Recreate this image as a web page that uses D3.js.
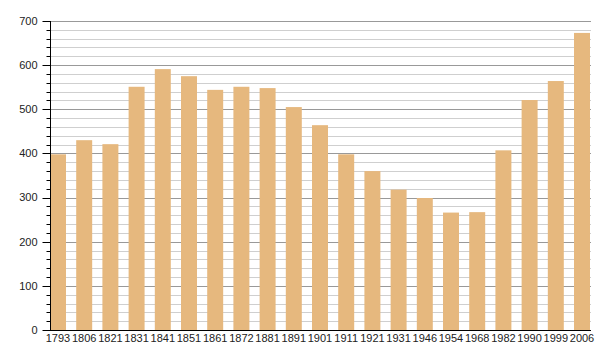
<!DOCTYPE html>
<html><head><meta charset="utf-8">
<script src="https://cdn.jsdelivr.net/npm/d3@7"></script>
<style>body{margin:0;background:#fff}svg{display:block}text{font-family:"Liberation Sans",Arial,sans-serif}</style>
</head><body>
<svg id="c" width="600" height="360"></svg>
<script>
const years = ["1793","1806","1821","1831","1841","1851","1861","1872","1881","1891","1901","1911","1921","1931","1946","1954","1968","1982","1990","1999","2006"];
const population = [398,430,421,551,591,575,544,551,548,505,464,398,360,318,299,266,267,407,521,564,673];
const yMajorTicks = [0,100,200,300,400,500,600,700];

(function () {
const svg = d3.select("#c");
const mLeft = 50, mRight = 591, mTop = 21, mBottom = 330;
const x = d3.scaleBand().domain(years).range([mLeft, mRight - 1]).paddingInner(0.39).paddingOuter(0);
const y = d3.scaleLinear().domain([0, 700]).range([mBottom, mTop]);
const minor = d3.range(0, 701, 20);

// grid
svg.append("g").selectAll("line").data(minor.filter(v => v > 0)).join("line")
  .attr("x1", mLeft).attr("x2", mRight)
  .attr("y1", d => Math.round(y(d)) + 0.5).attr("y2", d => Math.round(y(d)) + 0.5)
  .attr("stroke", d => d % 100 === 0 ? "#999" : "#cfcfcf").attr("stroke-width", 1);

// bars
svg.append("g").selectAll("rect").data(years).join("rect")
  .attr("x", d => x(d)).attr("width", x.bandwidth())
  .attr("y", (d, i) => y(population[i])).attr("height", (d, i) => mBottom - y(population[i]))
  .attr("fill", "#e6b87e");

// y axis
const ya = svg.append("g").attr("transform", `translate(${mLeft + 0.5},0)`);
ya.append("line").attr("y1", mTop).attr("y2", mBottom).attr("stroke", "#000");
ya.selectAll(".mt").data(minor).join("line").attr("class", "mt")
  .attr("x1", d => d % 100 === 0 ? -8 : -4).attr("x2", 0)
  .attr("y1", d => Math.round(y(d)) + 0.5).attr("y2", d => Math.round(y(d)) + 0.5)
  .attr("stroke", "#000");
ya.selectAll("text").data(yMajorTicks).join("text")
  .attr("x", -13).attr("y", d => y(d)).attr("dy", "0.35em")
  .attr("text-anchor", "end").attr("font-size", 11).attr("fill", "#222").text(d => d);

// x axis
svg.append("line").attr("x1", 46).attr("x2", mRight).attr("y1", mBottom + 0.5).attr("y2", mBottom + 0.5).attr("stroke", "#000");
svg.append("g").selectAll("text").data(years).join("text")
  .attr("x", d => x(d) + x.bandwidth() / 2).attr("y", mBottom + 12)
  .attr("text-anchor", "middle").attr("font-size", 11).attr("fill", "#222").text(d => d);
})();
</script>
</body></html>
